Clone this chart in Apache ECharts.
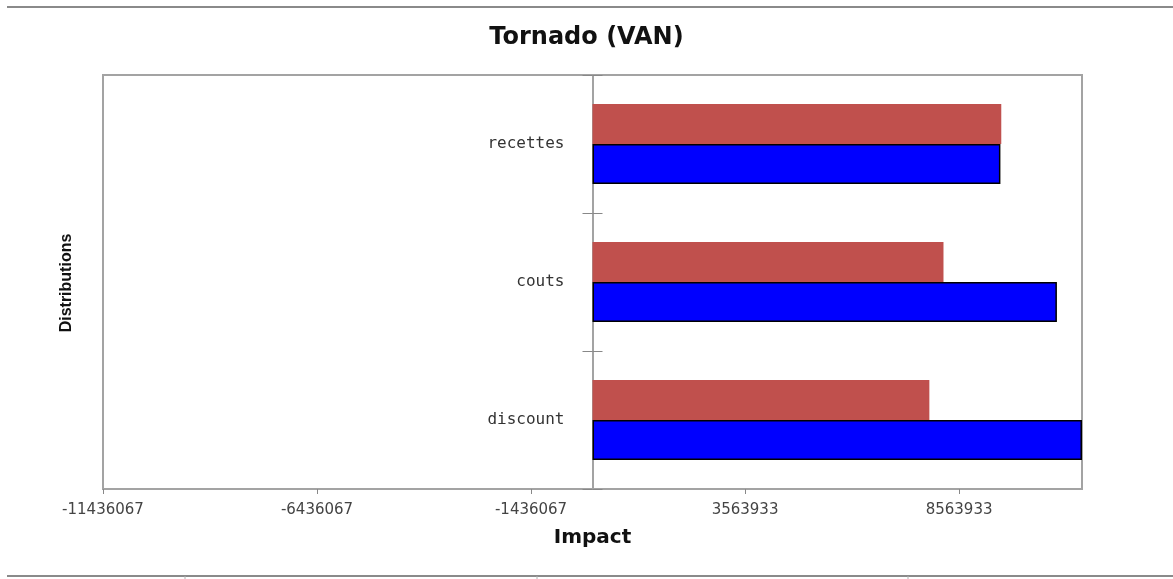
<!DOCTYPE html>
<html>
<head>
<meta charset="utf-8">
<script src="https://cdn.jsdelivr.net/npm/echarts@6/dist/echarts.min.js"></script>
<style>
  html, body { margin: 0; padding: 0; background: #fff; }
  #chart { width: 1173px; height: 579px; }
</style>
</head>
<body>
<div id="chart"></div>
<script>
// Tornado chart of VAN sensitivity per input distribution
const categories = ['discount', 'couts', 'recettes'];
const lowImpact = [7870000, 8200000, 9550000];    // red bars
const highImpact = [11436067, 10850000, 9530000]; // blue bars
const axisMin = -11436067;
const axisMax = 11436067;
const axisStep = 5000000;

const gridLeft = 103;
const gridRight = 91;
const chartWidth = 1173;
// pixel distance from the frame's left edge to the zero line
const zeroOffset = (chartWidth - gridLeft - gridRight) * (0 - axisMin) / (axisMax - axisMin);

const chart = echarts.init(document.getElementById('chart'));

// page rules above and below the chart, with small marks under the lower rule
const ruleColor = '#8a8a8a';
const ruleGraphics = [
  { type: 'line', shape: { x1: 7, y1: 7, x2: 1173, y2: 7 }, style: { stroke: ruleColor, lineWidth: 2 } },
  { type: 'line', shape: { x1: 7, y1: 576, x2: 1173, y2: 576 }, style: { stroke: ruleColor, lineWidth: 2 } }
].concat([185, 537, 908].map(x => ({
  type: 'line', shape: { x1: x, y1: 576, x2: x, y2: 579 }, style: { stroke: '#b0b0b0', lineWidth: 1 }
})));

chart.setOption({
  animation: false,
  backgroundColor: '#ffffff',
  title: {
    text: 'Tornado (VAN)',
    left: 'center',
    top: 21,
    textStyle: { fontFamily: 'DejaVu Sans', fontWeight: 'bold', fontSize: 24, color: '#111' }
  },
  grid: {
    left: gridLeft, right: gridRight, top: 75, bottom: 90,
    containLabel: false,
    outerBoundsMode: 'none',
    show: true,
    borderColor: '#a3a3a3',
    borderWidth: 2,
    backgroundColor: '#ffffff'
  },
  xAxis: {
    type: 'value',
    min: axisMin,
    max: axisMax,
    interval: axisStep,
    name: 'Impact',
    nameLocation: 'middle',
    nameGap: 39,
    nameTextStyle: { fontFamily: 'DejaVu Sans', fontWeight: 'bold', fontSize: 20, color: '#111' },
    splitLine: { show: false },
    axisLine: { show: true, lineStyle: { color: '#a3a3a3', width: 2 } },
    axisTick: { show: true, length: 5, lineStyle: { color: '#888', width: 1 } },
    axisLabel: {
      showMaxLabel: false,
      margin: 14,
      fontFamily: 'DejaVu Sans',
      fontSize: 15,
      color: '#444',
      formatter: v => String(Math.round(v))
    }
  },
  yAxis: [
    {
      // category axis drawn on the zero line, ticks pointing left
      type: 'category',
      data: categories,
      position: 'left',
      offset: -zeroOffset,
      axisLine: { show: true, onZero: false, lineStyle: { color: '#a3a3a3', width: 2 } },
      axisTick: { show: true, length: 10, lineStyle: { color: '#888', width: 1 } },
      axisLabel: { margin: 28, fontFamily: 'DejaVu Sans Mono', fontSize: 16, color: '#333' },
      splitLine: { show: false }
    },
    {
      // inner half of the cross-shaped category ticks
      type: 'category',
      data: categories,
      position: 'left',
      offset: -zeroOffset,
      axisLine: { show: false, onZero: false },
      axisTick: { show: true, inside: true, length: 10, lineStyle: { color: '#888', width: 1 } },
      axisLabel: { show: false },
      splitLine: { show: false }
    }
  ],
  series: [
    {
      name: 'low',
      type: 'bar',
      data: lowImpact,
      barGap: '0%',
      barCategoryGap: '42%',
      itemStyle: { color: '#c0504d' }
    },
    {
      name: 'high',
      type: 'bar',
      data: highImpact,
      barGap: '0%',
      barCategoryGap: '42%',
      itemStyle: { color: '#0000ff', borderColor: '#000', borderWidth: 1.5 }
    }
  ],
  graphic: ruleGraphics.concat([
    {
      type: 'text',
      x: 67,
      y: 283,
      rotation: Math.PI / 2,
      style: {
        text: 'Distributions',
        fontFamily: 'Liberation Sans',
        fontWeight: 'bold',
        fontSize: 16,
        fill: '#111',
        align: 'center',
        verticalAlign: 'middle'
      }
    }
  ])
});
</script>
</body>
</html>
